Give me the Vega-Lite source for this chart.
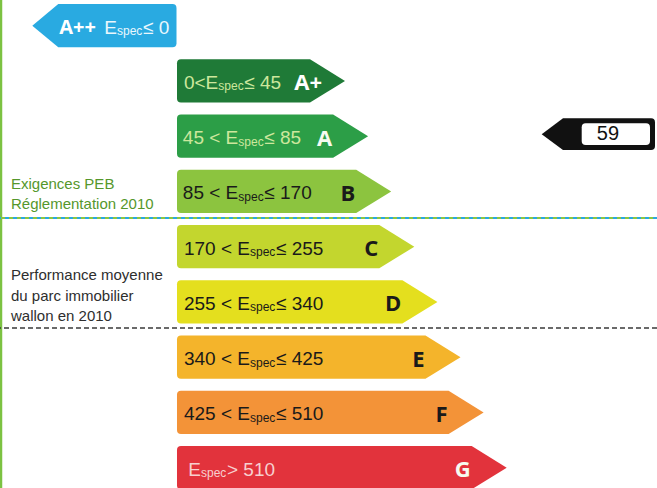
{
"$schema":"https://vega.github.io/schema/vega-lite/v6.json",
"width":657,"height":488,"padding":0,"autosize":{"type":"none"},
"background":"#ffffff",
"config":{"view":{"stroke":null}},
"datasets":{
 "rows":[
  {"cls":"A+","rank":1,"pre":"0<E","suf":"≤ 45"},
  {"cls":"A","rank":2,"pre":"45 < E","suf":"≤ 85"},
  {"cls":"B","rank":3,"pre":"85 < E","suf":"≤ 170"},
  {"cls":"C","rank":4,"pre":"170 < E","suf":"≤ 255"},
  {"cls":"D","rank":5,"pre":"255 < E","suf":"≤ 340"},
  {"cls":"E","rank":6,"pre":"340 < E","suf":"≤ 425"},
  {"cls":"F","rank":7,"pre":"425 < E","suf":"≤ 510"},
  {"cls":"G","rank":8,"pre":"E","suf":"> 510"}
 ],
 "best":[{"cls":"A++","label":"A++","pre":"E","suf":"≤ 0"}],
 "ind":[{"cls":"A","value":59}],
 "notes":[{"cls":"B","lines":["Exigences PEB","Réglementation 2010"]},{"cls":"D","lines":["Performance moyenne","du parc immobilier","wallon en 2010"]}]
},
"layer":[
 {"data":{"name":"rows"},"mark":{"type":"point","size":1875,"filled":true,"opacity":1,"strokeWidth":0},
  "encoding":{"y":{"field":"cls","type":"ordinal","axis":null,"scale":{"domain":["A++","A+","A","B","C","D","E","F","G"],"range":[4,489.3],"paddingInner":0.217,"paddingOuter":0}},
   "x":{"field":"rank","type":"quantitative","axis":null,"scale":{"domain":[-12.42,16.0216],"nice":false,"zero":false}},
   "color":{"field":"cls","type":"nominal","legend":null,"scale":{"domain":["A+","A","B","C","D","E","F","G"],"range":["#1f7a37","#2c9e47","#8cc43f","#c3d62e","#e4df1e","#f4b42b","#f39338","#e2333c"]}},
   "shape":{"field":"cls","type":"nominal","legend":null,"scale":{"domain":["A+","A","B","C","D","E","F","G"],"range":[
    "M-5.958,-1L0,-1L1.617,0L0,1L-5.958,1Q-6.143,1 -6.143,0.815L-6.143,-0.815Q-6.143,-1 -5.958,-1Z",
    "M-7.025,-1L0,-1L1.617,0L0,1L-7.025,1Q-7.21,1 -7.21,0.815L-7.21,-0.815Q-7.21,-1 -7.025,-1Z",
    "M-8.092,-1L0,-1L1.617,0L0,1L-8.092,1Q-8.277,1 -8.277,0.815L-8.277,-0.815Q-8.277,-1 -8.092,-1Z",
    "M-9.159,-1L0,-1L1.617,0L0,1L-9.159,1Q-9.344,1 -9.344,0.815L-9.344,-0.815Q-9.344,-1 -9.159,-1Z",
    "M-10.226,-1L0,-1L1.617,0L0,1L-10.226,1Q-10.411,1 -10.411,0.815L-10.411,-0.815Q-10.411,-1 -10.226,-1Z",
    "M-11.293,-1L0,-1L1.617,0L0,1L-11.293,1Q-11.478,1 -11.478,0.815L-11.478,-0.815Q-11.478,-1 -11.293,-1Z",
    "M-12.36,-1L0,-1L1.617,0L0,1L-12.36,1Q-12.545,1 -12.545,0.815L-12.545,-0.815Q-12.545,-1 -12.36,-1Z",
    "M-13.427,-1L0,-1L1.617,0L0,1L-13.427,1Q-13.612,1 -13.612,0.815L-13.612,-0.815Q-13.612,-1 -13.427,-1Z"]}}}},

 {"data":{"values":[{}]},"mark":{"type":"rule","stroke":"#7cc242","strokeWidth":2.5},
  "encoding":{"x":{"datum":-12.377}}},
 {"data":{"values":[{"cls":"B"}]},"mark":{"type":"rule","stroke":"#2aa8e0","strokeWidth":2,"strokeDash":[4,4],"yOffset":26.6},
  "encoding":{"y":{"field":"cls","type":"ordinal"}}},
 {"data":{"values":[{"cls":"B"}]},"mark":{"type":"rule","stroke":"#8dc63f","strokeWidth":2,"strokeDash":[4,4],"strokeDashOffset":4,"yOffset":26.6},
  "encoding":{"y":{"field":"cls","type":"ordinal"}}},
 {"data":{"values":[{"cls":"D"}]},"mark":{"type":"rule","stroke":"#3a3a3a","strokeWidth":1.5,"strokeDash":[5,3],"yOffset":26.1},
  "encoding":{"y":{"field":"cls","type":"ordinal"}}},

 {"data":{"name":"notes"},"transform":[{"filter":"datum.cls==='B'"}],"mark":{"type":"text","align":"left","baseline":"alphabetic","dy":-2.4,"font":"Liberation Sans, Arial, sans-serif","fontSize":15,"lineHeight":20.5,"color":"#55972c"},
  "encoding":{"x":{"datum":-11.944},"y":{"field":"cls","type":"ordinal"},"text":{"field":"lines"}}},
 {"data":{"name":"notes"},"transform":[{"filter":"datum.cls==='D'"}],"mark":{"type":"text","align":"left","baseline":"alphabetic","dy":-21.9,"font":"Liberation Sans, Arial, sans-serif","fontSize":15,"lineHeight":20.5,"color":"#2e2e2e"},
  "encoding":{"x":{"datum":-11.944},"y":{"field":"cls","type":"ordinal"},"text":{"field":"lines"}}},

 {"data":{"name":"best"},"mark":{"type":"point","shape":"M0,0L1.2,-1L6.475,-1Q6.66,-1 6.66,-0.815L6.66,0.815Q6.66,1 6.475,1L1.2,1Z","size":1875,"filled":true,"opacity":1,"strokeWidth":0,"color":"#29aae1"},
  "encoding":{"y":{"field":"cls","type":"ordinal"},"x":{"datum":-11.022}}},

 {"data":{"name":"ind"},"mark":{"type":"point","shape":"M0,-0.123L1.344,-1.123L6.9,-1.123Q7.148,-1.123 7.148,-0.873L7.148,0.627Q7.148,0.877 6.9,0.877L1.344,0.877Z","size":1005,"filled":true,"opacity":1,"strokeWidth":0,"color":"#111111"},
  "encoding":{"y":{"field":"cls","type":"ordinal"},"x":{"datum":11.03}}},
 {"data":{"name":"ind"},"mark":{"type":"point","shape":"M2.774,-0.807L6.583,-0.807Q6.833,-0.807 6.833,-0.557L6.833,0.311Q6.833,0.561 6.583,0.561L2.774,0.561Q2.524,0.561 2.524,0.311L2.524,-0.557Q2.524,-0.807 2.774,-0.807Z","size":1005,"filled":true,"opacity":1,"strokeWidth":0,"color":"#ffffff"},
  "encoding":{"y":{"field":"cls","type":"ordinal"},"x":{"datum":11.03}}},
 {"data":{"name":"ind"},"mark":{"type":"text","align":"center","baseline":"alphabetic","dy":3.5,"font":"Liberation Sans, Arial, sans-serif","fontSize":20,"color":"#111111"},
  "encoding":{"y":{"field":"cls","type":"ordinal"},"x":{"datum":13.9},"text":{"field":"value"}}},

 {"data":{"name":"best"},"mark":{"type":"text","align":"left","baseline":"alphabetic","dy":8.5,"font":"Open Sans, Liberation Sans, sans-serif","fontWeight":"bold","fontSize":20,"color":"#ffffff"},
  "encoding":{"y":{"field":"cls","type":"ordinal"},"x":{"datum":-9.853},"text":{"field":"label"}}},
 {"data":{"name":"best"},"mark":{"type":"text","align":"right","baseline":"alphabetic","dy":8,"font":"Liberation Sans, Arial, sans-serif","fontSize":19,"color":"#eaf7fd"},
  "encoding":{"y":{"field":"cls","type":"ordinal"},"x":{"datum":-7.355},"text":{"field":"pre"}}},
 {"data":{"name":"best"},"mark":{"type":"text","align":"left","baseline":"alphabetic","dy":9.5,"font":"Liberation Sans, Arial, sans-serif","fontSize":12,"color":"#eaf7fd"},
  "encoding":{"y":{"field":"cls","type":"ordinal"},"x":{"datum":-7.355},"text":{"value":"spec"}}},
 {"data":{"name":"best"},"mark":{"type":"text","align":"left","baseline":"alphabetic","dy":8,"dx":26,"font":"Liberation Sans, Arial, sans-serif","fontSize":19,"color":"#eaf7fd"},
  "encoding":{"y":{"field":"cls","type":"ordinal"},"x":{"datum":-7.355},"text":{"field":"suf"}}},

 {"data":{"name":"rows"},"transform":[{"filter":"datum.cls==='A+'"}],"mark":{"type":"text","align":"right","baseline":"alphabetic","dy":8,"font":"Liberation Sans, Arial, sans-serif","fontSize":19,"color":"#cde79d"},
  "encoding":{"y":{"field":"cls","type":"ordinal"},"x":{"datum":-2.970},"text":{"field":"pre"}}},
 {"data":{"name":"rows"},"transform":[{"filter":"datum.cls==='A+'"}],"mark":{"type":"text","align":"left","baseline":"alphabetic","dy":9.5,"font":"Liberation Sans, Arial, sans-serif","fontSize":12,"color":"#cde79d"},
  "encoding":{"y":{"field":"cls","type":"ordinal"},"x":{"datum":-2.970},"text":{"value":"spec"}}},
 {"data":{"name":"rows"},"transform":[{"filter":"datum.cls==='A+'"}],"mark":{"type":"text","align":"left","baseline":"alphabetic","dy":8,"dx":26,"font":"Liberation Sans, Arial, sans-serif","fontSize":19,"color":"#cde79d"},
  "encoding":{"y":{"field":"cls","type":"ordinal"},"x":{"datum":-2.970},"text":{"field":"suf"}}},

 {"data":{"name":"rows"},"transform":[{"filter":"datum.cls==='A'"}],"mark":{"type":"text","align":"right","baseline":"alphabetic","dy":8,"font":"Liberation Sans, Arial, sans-serif","fontSize":19,"color":"#cde79d"},
  "encoding":{"y":{"field":"cls","type":"ordinal"},"x":{"datum":-2.104},"text":{"field":"pre"}}},
 {"data":{"name":"rows"},"transform":[{"filter":"datum.cls==='A'"}],"mark":{"type":"text","align":"left","baseline":"alphabetic","dy":9.5,"font":"Liberation Sans, Arial, sans-serif","fontSize":12,"color":"#cde79d"},
  "encoding":{"y":{"field":"cls","type":"ordinal"},"x":{"datum":-2.104},"text":{"value":"spec"}}},
 {"data":{"name":"rows"},"transform":[{"filter":"datum.cls==='A'"}],"mark":{"type":"text","align":"left","baseline":"alphabetic","dy":8,"dx":26,"font":"Liberation Sans, Arial, sans-serif","fontSize":19,"color":"#cde79d"},
  "encoding":{"y":{"field":"cls","type":"ordinal"},"x":{"datum":-2.104},"text":{"field":"suf"}}},

 {"data":{"name":"rows"},"transform":[{"filter":"datum.cls==='B'"}],"mark":{"type":"text","align":"right","baseline":"alphabetic","dy":8,"font":"Liberation Sans, Arial, sans-serif","fontSize":19,"color":"#1a1a1a"},
  "encoding":{"y":{"field":"cls","type":"ordinal"},"x":{"datum":-2.104},"text":{"field":"pre"}}},
 {"data":{"name":"rows"},"transform":[{"filter":"datum.cls==='B'"}],"mark":{"type":"text","align":"left","baseline":"alphabetic","dy":9.5,"font":"Liberation Sans, Arial, sans-serif","fontSize":12,"color":"#1a1a1a"},
  "encoding":{"y":{"field":"cls","type":"ordinal"},"x":{"datum":-2.104},"text":{"value":"spec"}}},
 {"data":{"name":"rows"},"transform":[{"filter":"datum.cls==='B'"}],"mark":{"type":"text","align":"left","baseline":"alphabetic","dy":8,"dx":26,"font":"Liberation Sans, Arial, sans-serif","fontSize":19,"color":"#1a1a1a"},
  "encoding":{"y":{"field":"cls","type":"ordinal"},"x":{"datum":-2.104},"text":{"field":"suf"}}},

 {"data":{"name":"rows"},"transform":[{"filter":"datum.rank>=4 && datum.rank<=7"}],"mark":{"type":"text","align":"right","baseline":"alphabetic","dy":8,"font":"Liberation Sans, Arial, sans-serif","fontSize":19,"color":"#1a1a1a"},
  "encoding":{"y":{"field":"cls","type":"ordinal"},"x":{"datum":-1.597},"text":{"field":"pre"}}},
 {"data":{"name":"rows"},"transform":[{"filter":"datum.rank>=4 && datum.rank<=7"}],"mark":{"type":"text","align":"left","baseline":"alphabetic","dy":9.5,"font":"Liberation Sans, Arial, sans-serif","fontSize":12,"color":"#1a1a1a"},
  "encoding":{"y":{"field":"cls","type":"ordinal"},"x":{"datum":-1.597},"text":{"value":"spec"}}},
 {"data":{"name":"rows"},"transform":[{"filter":"datum.rank>=4 && datum.rank<=7"}],"mark":{"type":"text","align":"left","baseline":"alphabetic","dy":8,"dx":26,"font":"Liberation Sans, Arial, sans-serif","fontSize":19,"color":"#1a1a1a"},
  "encoding":{"y":{"field":"cls","type":"ordinal"},"x":{"datum":-1.597},"text":{"field":"suf"}}},

 {"data":{"name":"rows"},"transform":[{"filter":"datum.cls==='G'"}],"mark":{"type":"text","align":"right","baseline":"alphabetic","dy":8,"font":"Liberation Sans, Arial, sans-serif","fontSize":19,"color":"#f7cfcf"},
  "encoding":{"y":{"field":"cls","type":"ordinal"},"x":{"datum":-3.719},"text":{"field":"pre"}}},
 {"data":{"name":"rows"},"transform":[{"filter":"datum.cls==='G'"}],"mark":{"type":"text","align":"left","baseline":"alphabetic","dy":9.5,"font":"Liberation Sans, Arial, sans-serif","fontSize":12,"color":"#f7cfcf"},
  "encoding":{"y":{"field":"cls","type":"ordinal"},"x":{"datum":-3.719},"text":{"value":"spec"}}},
 {"data":{"name":"rows"},"transform":[{"filter":"datum.cls==='G'"}],"mark":{"type":"text","align":"left","baseline":"alphabetic","dy":8,"dx":26,"font":"Liberation Sans, Arial, sans-serif","fontSize":19,"color":"#f7cfcf"},
  "encoding":{"y":{"field":"cls","type":"ordinal"},"x":{"datum":-3.719},"text":{"field":"suf"}}},

 {"data":{"name":"rows"},"transform":[{"filter":"datum.rank>=3 && datum.rank<=7"}],"mark":{"type":"text","align":"right","baseline":"alphabetic","dy":9.5,"dx":-1,"font":"Open Sans, Liberation Sans, sans-serif","fontWeight":"bold","fontSize":22,"color":"#1a1a1a"},
  "encoding":{"y":{"field":"cls","type":"ordinal"},"x":{"field":"rank","type":"quantitative"},"text":{"field":"cls"}}},
 {"data":{"name":"rows"},"transform":[{"filter":"datum.rank==2 || datum.rank==8"}],"mark":{"type":"text","align":"right","baseline":"alphabetic","dy":9.5,"dx":-1,"font":"Open Sans, Liberation Sans, sans-serif","fontWeight":"bold","fontSize":22,"color":"#f6fbf0"},
  "encoding":{"y":{"field":"cls","type":"ordinal"},"x":{"field":"rank","type":"quantitative"},"text":{"field":"cls"}}},
 {"data":{"name":"rows"},"transform":[{"filter":"datum.cls==='A+'"}],"mark":{"type":"text","align":"right","baseline":"alphabetic","dy":9.5,"dx":12,"font":"Open Sans, Liberation Sans, sans-serif","fontWeight":"bold","fontSize":22,"color":"#ffffff"},
  "encoding":{"y":{"field":"cls","type":"ordinal"},"x":{"field":"rank","type":"quantitative"},"text":{"field":"cls"}}}
]
}
